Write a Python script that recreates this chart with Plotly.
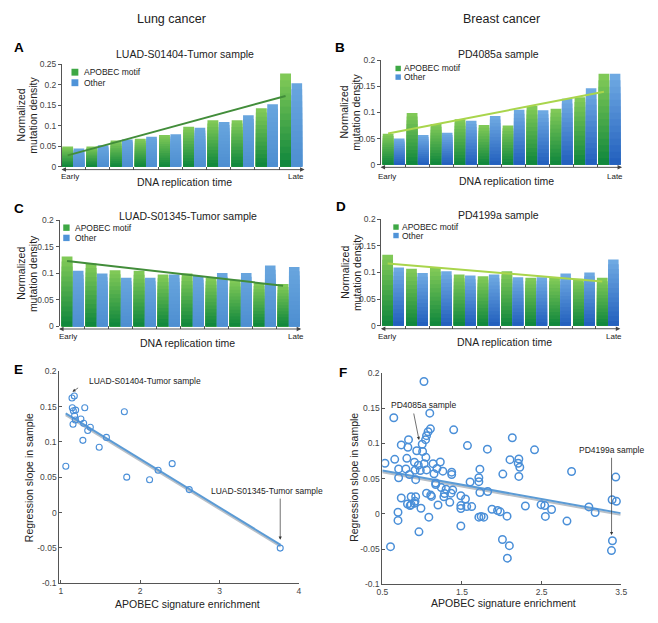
import numpy as np
import plotly.graph_objects as go

W, H = 658, 623
FONT = 'Liberation Sans, Arial, Helvetica, sans-serif'

# replication-time bins (early -> late)
groups = list(range(1, 11))

a_apobec = [0.049, 0.049, 0.064, 0.068, 0.077, 0.097, 0.113, 0.113, 0.142, 0.227]
a_other = [0.044, 0.052, 0.066, 0.073, 0.079, 0.095, 0.109, 0.125, 0.152, 0.203]
b_apobec = [0.059, 0.099, 0.078, 0.087, 0.076, 0.075, 0.112, 0.107, 0.129, 0.174]
b_other = [0.050, 0.057, 0.061, 0.084, 0.093, 0.105, 0.104, 0.126, 0.146, 0.174]
c_apobec = [0.132, 0.119, 0.106, 0.105, 0.098, 0.100, 0.092, 0.088, 0.082, 0.080]
c_other = [0.105, 0.100, 0.092, 0.092, 0.098, 0.095, 0.101, 0.101, 0.115, 0.112]
d_apobec = [0.133, 0.107, 0.109, 0.096, 0.093, 0.102, 0.090, 0.090, 0.088, 0.090]
d_other = [0.109, 0.099, 0.102, 0.094, 0.096, 0.091, 0.091, 0.098, 0.100, 0.124]

# lung samples: APOBEC enrichment vs regression slope
e_x = [1.140, 1.169, 1.144, 1.186, 1.157, 1.301, 1.800, 1.173, 1.182, 1.252, 1.287, 1.153,
       1.371, 1.338, 1.277, 1.574, 1.483, 1.062, 1.830, 2.118, 2.226, 2.403, 2.618, 3.765]
e_y = [0.1623, 0.1651, 0.1484, 0.1451, 0.1442, 0.1484, 0.1428, 0.1372, 0.1312, 0.1326, 0.1265, 0.1251,
       0.1209, 0.1163, 0.1023, 0.1065, 0.0926, 0.0656, 0.0502, 0.0465, 0.0600, 0.0693, 0.0326, -0.0502]
e_fit_x = [1.06, 3.77]
e_fit_y = [0.1405, -0.0456]

# breast samples
f_x = [1.023, 0.644, 1.096, 1.104, 1.075, 1.055, 1.043, 1.396, 0.829, 0.738, 0.821, 1.001, 0.932, 1.006,
       1.569, 1.819, 2.132, 2.411, 0.656, 0.808, 1.047, 0.533, 0.903, 0.952, 1.026, 0.977, 1.055, 1.137,
       1.228, 1.186, 1.260, 1.371, 1.371, 0.705, 0.796, 0.841, 0.911, 0.705, 0.919, 1.149, 1.170, 1.170,
       1.240, 1.301, 1.384, 1.363, 1.602, 1.712, 1.712, 1.725, 1.725, 1.823, 2.013, 2.103, 2.214, 2.206,
       2.226, 2.214, 2.876, 3.431, 1.055, 1.108, 0.738, 0.862, 0.919, 1.117, 1.281, 1.273, 1.199, 1.347,
       1.486, 1.544, 1.486, 1.486, 1.560, 1.622, 0.816, 0.849, 0.903, 0.911, 0.862, 0.985, 0.697, 0.697,
       1.084, 0.960, 0.603, 1.486, 1.712, 1.741, 1.774, 1.877, 1.947, 1.980, 2.066, 2.008, 2.095, 2.070,
       2.296, 2.493, 2.539, 2.547, 2.625, 2.818, 3.093, 3.172, 3.385, 3.439, 3.389, 3.377]
f_y = [0.188, 0.1365, 0.143, 0.1207, 0.1165, 0.111, 0.1053, 0.1193, 0.1053, 0.0979, 0.0946, 0.0988,
       0.0895, 0.0885, 0.0969, 0.0918, 0.1081, 0.0909, 0.0774, 0.0788, 0.0802, 0.0718, 0.0732, 0.069,
       0.0713, 0.0615, 0.0624, 0.0713, 0.0736, 0.0643, 0.0606, 0.0592, 0.0559, 0.0638, 0.0638, 0.0559,
       0.062, 0.0513, 0.0485, 0.0569, 0.0438, 0.0415, 0.0373, 0.035, 0.034, 0.0294, 0.0452, 0.0513,
       0.0457, 0.0634, 0.0303, 0.0317, 0.0564, 0.0769, 0.0778, 0.0718, 0.0662, 0.0531, 0.0601, 0.0522,
       0.0294, 0.0266, 0.0224, 0.0242, 0.0242, 0.0247, 0.0289, 0.0242, 0.0126, 0.0163, 0.0256, 0.021,
       0.0117, 0.0075, 0.0103, 0.0103, 0.014, 0.0117, 0.0149, 0.0177, 0.013, 0.0079, 0.0023, -0.0093,
       -0.0047, -0.0256, -0.0466, -0.0172, -0.0047, -0.0037, -0.0047, 0.0065, 0.0047, 0.0028, -0.0033,
       -0.0364, -0.0452, -0.0629, 0.0112, 0.013, 0.0117, -0.0037, 0.0061, -0.0103, 0.0098, 0.0019,
       0.02, 0.0177, -0.0382, -0.0522]
f_fit_x = [0.5, 3.49]
f_fit_y = [0.0615, 0.001]

bar_ticks_a = [0, 0.05, 0.1, 0.15, 0.2, 0.25]
bar_ticks = [0, 0.05, 0.1, 0.15, 0.2]
bar_ticktext_a = ['0', '0.05', '0.1', '0.15', '0.2', '0.25']
bar_ticktext = ['0', '0.05', '0.1', '0.15', '0.2']
sc_yticks = [-0.1, -0.05, 0, 0.05, 0.1, 0.15, 0.2]
sc_yticktext = ['-0.1', '-0.05', '0', '0.05', '0.1', '0.15', '0.2']
e_xticks = [1, 2, 3, 4]
f_xticks = [0.5, 1.5, 2.5, 3.5]


def paper(x, y):
    return x / W, 1 - y / H


def mix(c1, c2, t):
    a = [int(c1[i:i + 2], 16) for i in (1, 3, 5)]
    b = [int(c2[i:i + 2], 16) for i in (1, 3, 5)]
    return 'rgb(%d,%d,%d)' % tuple(round(a[i] + (b[i] - a[i]) * t) for i in range(3))


GREEN = ('#80c957', '#12883d')
BLUE_FLAT = ('#68a5de', '#4e8fd1')
BLUE_GRAD = ('#6ea9e2', '#2461be')
G_OFF, G_W = -0.46, 0.45
B_OFF, B_W = 0.01, 0.44


def add_bars(fig, vals, off, wid, cols, xa, ya, n=14):
    # stacked overlay layers give the light-top / dark-bottom shading
    for k in range(n):
        f = 1 - k / n
        fig.add_trace(go.Bar(
            x=groups, y=[v * f for v in vals], offset=off, width=wid,
            marker=dict(color=mix(cols[0], cols[1], k / (n - 1)), line=dict(width=0)),
            xaxis=xa, yaxis=ya, hoverinfo='skip', showlegend=False))


fig = go.Figure()
annotations = []
shapes = []

panels = [
    dict(k='', g=a_apobec, b=a_other, bc=BLUE_FLAT, tc='#428d3a', xd=(57, 303.6), yd=(60, 164.3),
         xr=[0.53, 10.53], yr=[0, 0.25], tv=bar_ticks_a, tt=bar_ticktext_a, ay=167.3),
    dict(k='2', g=b_apobec, b=b_other, bc=BLUE_GRAD, tc='#a9d54c', xd=(382, 627), yd=(56, 162.3),
         xr=[0.47, 10.5], yr=[0, 0.2], tv=bar_ticks, tt=bar_ticktext, ay=165),
    dict(k='3', g=c_apobec, b=c_other, bc=BLUE_FLAT, tc='#428d3a', xd=(54.5, 300.2), yd=(219, 326.7),
         xr=[0.45, 10.5], yr=[0, 0.2], tv=bar_ticks, tt=bar_ticktext, ay=329.3),
    dict(k='4', g=d_apobec, b=d_other, bc=BLUE_GRAD, tc='#a9d54c', xd=(382.3, 625.2), yd=(217.5, 326),
         xr=[0.5, 10.5], yr=[0, 0.2], tv=bar_ticks, tt=bar_ticktext, ay=329),
]

layout_axes = {}
for p in panels:
    xa, ya = 'x' + p['k'], 'y' + p['k']
    add_bars(fig, p['g'], G_OFF, G_W, GREEN, xa, ya)
    add_bars(fig, p['b'], B_OFF, B_W, p['bc'], xa, ya)
    # regression of the APOBEC-motif bins across replication time
    slope, icpt = np.polyfit(groups, p['g'], 1)
    gx = [groups[0] + G_OFF + G_W / 2, groups[-1] + G_OFF + G_W / 2]
    fig.add_trace(go.Scatter(x=gx, y=[slope * g + icpt for g in (groups[0], groups[-1])],
                             mode='lines', line=dict(color=p['tc'], width=2),
                             xaxis=xa, yaxis=ya, hoverinfo='skip', showlegend=False))
    xname = 'xaxis' + p['k']
    yname = 'yaxis' + p['k']
    layout_axes[xname] = dict(
        domain=[p['xd'][0] / W, p['xd'][1] / W], range=p['xr'], anchor='free',
        position=1 - p['ay'] / H, tickvals=[g + 0.5 for g in groups[:-1]], showticklabels=False,
        ticks='inside', ticklen=3, tickcolor='#555', showgrid=False, zeroline=False, showline=False)
    layout_axes[yname] = dict(
        domain=[1 - p['yd'][1] / H, 1 - p['yd'][0] / H], range=p['yr'], anchor=xa,
        tickvals=p['tv'], ticktext=p['tt'], ticks='outside', ticklen=3, tickcolor='#555',
        tickfont=dict(size=8.5, color='#444', family=FONT), showline=True, linecolor='#555',
        linewidth=1, showgrid=False, zeroline=False)
    dw = p['xd'][1] - p['xd'][0]
    annotations.append(dict(xref=xa + ' domain', yref='paper', x=1 + 0.5 / dw, y=1 - p['ay'] / H,
                            axref=xa + ' domain', ayref='pixel', ax=-2 / dw, ay=0, text='',
                            showarrow=True, arrowside='end+start',
                            arrowhead=2, arrowsize=1, arrowwidth=0.9, arrowcolor='#444'))

# scatter panels
MK = '#4a8fd8'
fig.add_trace(go.Scatter(x=[e_fit_x[0], e_fit_x[1]], y=[v - 0.0025 for v in e_fit_y], mode='lines',
                         line=dict(color='#b9c0c8', width=2), xaxis='x5', yaxis='y5',
                         hoverinfo='skip', showlegend=False))
fig.add_trace(go.Scatter(x=e_fit_x, y=e_fit_y, mode='lines', line=dict(color='#5b9bd5', width=2),
                         xaxis='x5', yaxis='y5', hoverinfo='skip', showlegend=False))
fig.add_trace(go.Scatter(x=e_x, y=e_y, mode='markers',
                         marker=dict(symbol='circle-open', size=6, color=MK, line=dict(width=1.1)),
                         xaxis='x5', yaxis='y5', showlegend=False))
fig.add_trace(go.Scatter(x=f_fit_x, y=[v - 0.0025 for v in f_fit_y], mode='lines',
                         line=dict(color='#b9c0c8', width=2), xaxis='x6', yaxis='y6',
                         hoverinfo='skip', showlegend=False))
fig.add_trace(go.Scatter(x=f_fit_x, y=f_fit_y, mode='lines', line=dict(color='#5b9bd5', width=2),
                         xaxis='x6', yaxis='y6', hoverinfo='skip', showlegend=False))
fig.add_trace(go.Scatter(x=f_x, y=f_y, mode='markers',
                         marker=dict(symbol='circle-open', size=7.5, color=MK, line=dict(width=1.5)),
                         xaxis='x6', yaxis='y6', showlegend=False))

sc_common = dict(showgrid=False, zeroline=False, showline=True, linecolor='#555', linewidth=1,
                 ticks='inside', ticklen=3, tickcolor='#555',
                 tickfont=dict(size=8.5, color='#444', family=FONT))
layout_axes['xaxis5'] = dict(domain=[54.3 / W, 298.3 / W], range=[0.98, 4.0], anchor='y5',
                             tickvals=e_xticks, ticktext=[str(v) for v in e_xticks], **sc_common)
layout_axes['yaxis5'] = dict(domain=[1 - 587.7 / H, 1 - 372.3 / H], range=[-0.1, 0.2], anchor='x5',
                             tickvals=sc_yticks, ticktext=sc_yticktext, **sc_common)
layout_axes['xaxis6'] = dict(domain=[383.3 / W, 626.7 / W], range=[0.5, 3.5], anchor='y6',
                             tickvals=f_xticks, ticktext=[str(v) for v in f_xticks], **sc_common)
layout_axes['yaxis6'] = dict(domain=[1 - 588.7 / H, 1 - 374 / H], range=[-0.1, 0.2], anchor='x6',
                             tickvals=sc_yticks, ticktext=sc_yticktext, **sc_common)


def label(text, x, y, size, bold=False, angle=0, xanchor='center'):
    px_, py_ = paper(x, y)
    annotations.append(dict(xref='paper', yref='paper', x=px_, y=py_, text=text, showarrow=False,
                            xanchor=xanchor, yanchor='middle', textangle=angle,
                            font=dict(size=size, color='#222' if not bold else '#000', family=FONT)))


label('Lung cancer', 169, 14, 12.5)
label('Breast cancer', 505, 14, 12.5)
for t, x, y in [('A', 13, 43), ('B', 340, 43), ('C', 13, 207), ('D', 341, 205), ('E', 13, 370), ('F', 343, 373)]:
    label('<b>%s</b>' % t, x, y, 13.5, bold=True)

label('LUAD-S01404-Tumor sample', 182, 50, 10.5)
label('PD4085a sample', 502, 50, 10.5)
label('LUAD-S01345-Tumor sample', 185, 214, 10.5)
label('PD4199a sample', 502, 213, 10.5)

for x, y in [(182, 180), (510, 178.5), (185, 343.3), (508, 342.7)]:
    label('DNA replication time', x, y, 10.5)
for x, y in [(15.5, 112), (344.5, 109), (15, 272.5), (344.5, 272)]:
    label('Normalized', x, y, 10.5, angle=-90)
    label('mutation density', x + 12.5, y, 10.5, angle=-90)
for (xe, xl, y) in [(65, 295, 174.3), (388.3, 620, 174.3), (63, 295, 337.3), (388.3, 619.3, 336.7)]:
    label('Early', xe, y, 8)
    label('Late', xl, y, 8)

# legends
for (sx, sz, y1, y2, tx, fs) in [(66.7, 7, 68.3, 79, 77, 8.5), (396.7, 5.5, 64.5, 73.3, 403, 8.5),
                                 (58.3, 6.5, 226.3, 236.7, 68.3, 8.5), (394.5, 5.5, 225.7, 234.3, 401.7, 8.5)]:
    for yy, col, txt in [(y1, '#3ea845', 'APOBEC motif'), (y2, '#4f93d8', 'Other')]:
        x0, yb = paper(sx, yy + sz / 2)
        x1, yt = paper(sx + sz, yy - sz / 2)
        shapes.append(dict(type='rect', xref='paper', yref='paper', x0=x0, x1=x1, y0=yb, y1=yt,
                           fillcolor=col, line=dict(width=0)))
        label(txt, tx, yy, fs, xanchor='left')

# scatter titles
label('APOBEC signature enrichment', 185, 608.3, 10.5)
label('APOBEC signature enrichment', 506.7, 607.7, 10.5)
label('Regression slope in sample', 23.3, 480, 10.5, angle=-90)
label('Regression slope in sample', 355, 480, 10.5, angle=-90)

# callouts
label('LUAD-S01404-Tumor sample', 82, 382.5, 8.5, xanchor='left')
label('LUAD-S01345-Tumor sample', 265.5, 494, 8.5)
label('PD4085a sample', 425, 407, 8.5)
label('PD4199a sample', 616.5, 452.7, 8.5)
arrow = dict(showarrow=True, text='', arrowhead=2, arrowsize=0.9, arrowwidth=0.7, arrowcolor='#333')
annotations.append(dict(xref='x5', yref='y5', x=1.146, y=0.171, axref='x5', ayref='y5',
                        ax=1.236, ay=0.178, **arrow))
annotations.append(dict(xref='x5', yref='y5', x=3.765, y=-0.0384, axref='x5', ayref='y5',
                        ax=3.765, ay=0.0219, **arrow))
annotations.append(dict(xref='x6', yref='y6', x=0.961, y=0.1049, axref='x6', ayref='y6',
                        ax=0.891, ay=0.1446, **arrow))
annotations.append(dict(xref='x6', yref='y6', x=3.378, y=-0.0302, axref='x6', ayref='y6',
                        ax=3.378, ay=0.0817, **arrow))

fig.update_layout(
    width=W, height=H, margin=dict(l=0, r=0, t=0, b=0),
    paper_bgcolor='white', plot_bgcolor='white', barmode='overlay', showlegend=False,
    font=dict(family=FONT, color='#222'),
    annotations=annotations, shapes=shapes, **layout_axes)

# the page's default body margin would push the 658x623 figure off the window
fig.write_html("out.html", config={'displayModeBar': False},
               post_script="document.body.style.margin='0';document.body.style.overflow='hidden';")
